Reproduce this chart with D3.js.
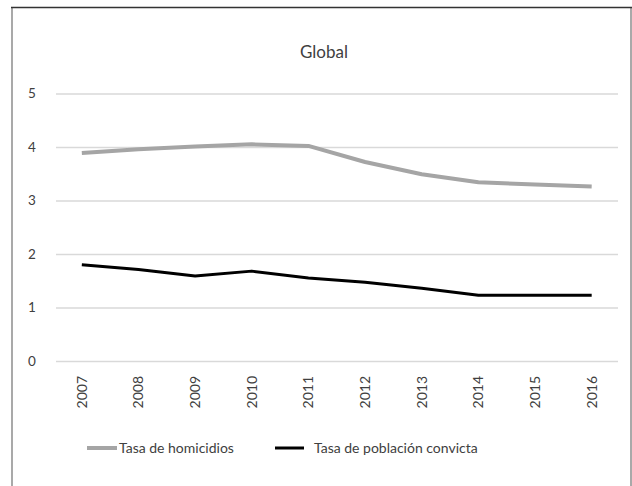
<!DOCTYPE html>
<html><head><meta charset="utf-8">
<script src="https://cdn.jsdelivr.net/npm/d3@7"></script>
<style>body{margin:0;background:#fff;} svg{display:block;font-family:Lato,"Open Sans",sans-serif;}</style>
</head><body>
<svg id="c" width="632" height="486"></svg>
<script>
const years = ["2007","2008","2009","2010","2011","2012","2013","2014","2015","2016"];
const homicidios = [3.89,3.96,4.01,4.05,4.02,3.72,3.49,3.34,3.30,3.26];
const convicta = [1.80,1.71,1.59,1.68,1.55,1.47,1.36,1.23,1.23,1.23];
const yTicks = [0,1,2,3,4,5];
const seriesNames = ["Tasa de homicidios","Tasa de población convicta"];
const colors = ["#a5a5a5","#000000"];

const svg = d3.select("#c");
// frame
svg.append("line").attr("x1",12).attr("x2",12).attr("y1",7).attr("y2",486).attr("stroke","#8c8c8c").attr("stroke-width",1.5);
svg.append("line").attr("x1",631).attr("x2",631).attr("y1",7).attr("y2",486).attr("stroke","#8c8c8c").attr("stroke-width",1.5);
svg.append("line").attr("x1",11).attr("x2",632).attr("y1",7.5).attr("y2",7.5).attr("stroke","#333").attr("stroke-width",1.5);

const x = d3.scaleBand().domain(years).range([53.5,620]);
const y = d3.scaleLinear().domain([0,5]).range([361,93.5]);

svg.append("text").attr("x",324).attr("y",58).attr("text-anchor","middle")
  .attr("font-size",17).attr("fill","#404040").text("Global");

// grid
const gy = svg.append("g").attr("transform","translate(56,0)")
  .call(d3.axisLeft(y).tickValues(yTicks).tickSize(-562).tickPadding(20).tickFormat(d3.format("d")));
gy.select(".domain").remove();
gy.selectAll(".tick line").attr("stroke","#d9d9d9").attr("stroke-width",1.5);
gy.selectAll(".tick text").attr("font-size",13.5).attr("fill","#404040").attr("font-family","Lato,sans-serif").attr("text-anchor","middle").attr("x",-24);

// x axis
const gx = svg.append("g").attr("transform","translate(0,361)")
  .call(d3.axisBottom(x).tickSize(0));
gx.select(".domain").remove();
gx.selectAll(".tick text").attr("font-size",14).attr("fill","#404040").attr("font-family","Lato,sans-serif")
  .attr("transform","rotate(-90)").attr("text-anchor","end").attr("x",-15).attr("y",0).attr("dy","0.35em");

const line = d3.line().x((d,i)=>x(years[i])+x.bandwidth()/2).y(d=>y(d));
[homicidios,convicta].forEach((s,k)=>{
  svg.append("path").datum(s).attr("d",line).attr("fill","none")
    .attr("stroke",colors[k]).attr("stroke-width",k===0?4:3).attr("stroke-linejoin","round");
});

// legend
const leg = [{x1:87,x2:117,tx:119},{x1:275,x2:304,tx:314}];
leg.forEach((l,k)=>{
  svg.append("line").attr("x1",l.x1).attr("x2",l.x2).attr("y1",448).attr("y2",448)
    .attr("stroke",colors[k]).attr("stroke-width",k===0?4:3);
  svg.append("text").attr("x",l.tx).attr("y",453).attr("font-size",14).attr("fill","#404040").text(seriesNames[k]);
});
</script>
</body></html>
